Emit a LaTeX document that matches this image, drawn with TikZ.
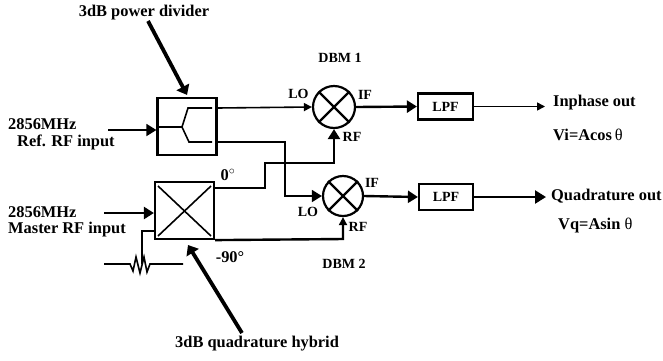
\documentclass[tikz,border=0pt]{standalone}
\usepackage{fontspec}
\setmainfont{Liberation Serif}
\usetikzlibrary{arrows.meta, calc}

\tikzset{
  lbl/.style={font=\fontsize{14}{16}\selectfont\bfseries, inner sep=0pt, align=left},
  biglbl/.style={font=\fontsize{16.4}{18}\selectfont\bfseries, inner sep=0pt, align=left},
  box/.style={draw, line width=2.2pt, minimum width=#1, inner sep=0pt},
  mixer/.style={circle, draw, line width=2.2pt, minimum size=#1, inner sep=0pt},
  wire/.style={line width=1.6pt},
  fatwire/.style={line width=2.4pt},
  smallhead/.style={-{Triangle[length=8pt,width=8pt]}},
  bighead/.style={-{Triangle[length=10pt,width=12pt]}},
  pointer/.style={line width=3.8pt, -{Triangle[length=9pt,width=14pt]}}
}

\begin{document}
\begin{tikzpicture}[x=1pt, y=-1pt]
  \useasboundingbox (0,0) rectangle (663,360);

  % blocks
  \node[box=59pt, minimum height=57pt] (divider) at (187,126.5) {};
  \node[box=59pt, minimum height=57pt] (hybrid) at (184.5,210.5) {};
  \node[mixer=42pt] (dbma) at (334,107) {};
  \node[mixer=40pt] (dbmb) at (343,196) {};
  \node[box=55pt, minimum height=26pt, lbl] (lpfa) at (445.5,106.5) {LPF};
  \node[box=54pt, minimum height=26pt, lbl] (lpfb) at (446,197) {LPF};
  \foreach \m in {dbma,dbmb} {
    \draw[fatwire] (\m.45) -- (\m.225);
    \draw[fatwire] (\m.135) -- (\m.315);
  }

  % inside the divider
  \coordinate (divin) at (182,127);
  \coordinate (divupa) at (188,108);
  \coordinate (divupb) at (212,108);
  \coordinate (divdna) at (189,142);
  \coordinate (divdnb) at (212,142);
  \draw[fatwire] (divider.west |- divin) -- (divin);
  \draw[wire] (divupb) -- (divupa) -- (divin) -- (divdna) -- (divdnb);

  % inside the hybrid
  \coordinate (hyba) at (158,186);
  \coordinate (hybb) at (211,236);
  \coordinate (hybc) at (211,186);
  \coordinate (hybd) at (158,236);
  \draw[wire] (hyba) -- (hybb);
  \draw[wire] (hybc) -- (hybd);

  % inputs
  \coordinate (refin) at (108,130);
  \coordinate (masterin) at (104,213);
  \draw[wire, bighead] (refin) -- (divider.west |- refin);
  \draw[fatwire, bighead] (masterin) -- (hybrid.west |- masterin);

  % divider to the mixers
  \coordinate (divaout) at (217,108);
  \coordinate (divbout) at (217,142);
  \draw[wire, smallhead] (divaout) -- (dbma.west);
  \draw[wire, bighead] (divbout) -- (285,142) -- (285,196) -- (dbmb.west);

  % hybrid to the mixers
  \coordinate (hybaout) at (214,188);
  \draw[fatwire, bighead] (hybaout) -- (265,188) -- (265,163) -| (dbma.south);
  \draw[fatwire, smallhead] (hybrid.south east) -- (343,239) -- (dbmb.south);

  % outputs
  \coordinate (outa) at (545,106.5);
  \coordinate (outb) at (546,197);
  \draw[fatwire, bighead] (dbma.east) -- (lpfa.west);
  \draw[fatwire, bighead] (dbmb.east) -- (lpfb.west);
  \draw[wire, smallhead] (lpfa.east) -- (outa);
  \draw[fatwire, -{Triangle[length=11pt,width=13pt]}] (lpfb.east) -- (outb);

  % load on the hybrid
  \coordinate (loadtop) at (155,231);
  \coordinate (loadmid) at (142,264);
  \coordinate (loadl) at (104,264);
  \coordinate (loadr) at (183,264);
  \draw[wire] (loadtop) -- (142,231) -- (loadmid);
  \draw[wire] (loadl) -- (130,264) -- (133,271) -- (136,257) -- (140,273) -- (144,257) -- (147,272) -- (150,264) -- (loadr);

  % pointers
  \coordinate (ptra) at (148,21);
  \coordinate (ptrb) at (242,333);
  \draw[pointer] (ptra) -- ($(divider.north)+(0,-2)$);
  \draw[pointer] (ptrb) -- (188,245);

  % labels
  \node[biglbl] (divlabel) at (144,13) {3dB power divider};
  \node[biglbl, anchor=west] (hyblabel) at (175,344) {3dB quadrature hybrid};
  \node[lbl] (dbmalabel) at (340,58) {DBM 1};
  \node[lbl] (dbmblabel) at (344,264) {DBM 2};
  \node[lbl] (loa) at (298.5,94) {LO};
  \node[lbl] (ifa) at (365,95) {IF};
  \node[lbl] (rfa) at (352,137) {RF};
  \node[lbl] (lob) at (308,212) {LO};
  \node[lbl] (ifb) at (372,183) {IF};
  \node[lbl] (rfb) at (358,227) {RF};
  \node[biglbl, anchor=west] (refa) at (8,124) {2856MHz};
  \node[biglbl, anchor=west] (refb) at (17,142) {Ref. RF input};
  \node[biglbl, anchor=west] (mastera) at (8,212) {2856MHz};
  \node[biglbl, anchor=west] (masterb) at (8,230) {Master RF input};
  \node[biglbl] (zerodeg) at (228,175) {0$^{\circ}$};
  \node[biglbl] (ninetydeg) at (230,257) {-90°};
  \node[biglbl, anchor=west] (inphase) at (553,103) {Inphase out};
  \node[biglbl, anchor=west] (vi) at (553,135) {Vi=Acos\,{\mdseries θ}};
  \node[biglbl, anchor=west] (quad) at (551,196) {Quadrature out};
  \node[biglbl, anchor=west] (vq) at (558,226) {Vq=Asin {\mdseries θ}};
\end{tikzpicture}
\end{document}
